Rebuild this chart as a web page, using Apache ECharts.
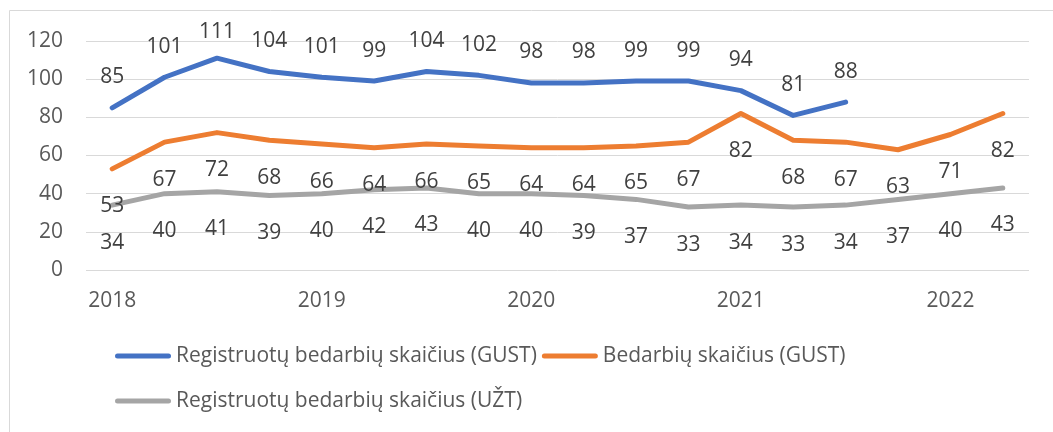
<!DOCTYPE html>
<html><head><meta charset="utf-8">
<script src="https://cdn.jsdelivr.net/npm/echarts@6/dist/echarts.min.js"></script>
<style>html,body{margin:0;padding:0;background:#fff}#c{width:1053px;height:432px}</style>
</head><body><div id="c"></div>
<script>
const categories = ["2018 I","2018 II","2018 III","2018 IV","2019 I","2019 II","2019 III","2019 IV","2020 I","2020 II","2020 III","2020 IV","2021 I","2021 II","2021 III","2021 IV","2022 I","2022 II"];
const regGust = [85,101,111,104,101,99,104,102,98,98,99,99,94,81,88,null,null,null];
const bedGust = [53,67,72,68,66,64,66,65,64,64,65,67,82,68,67,63,71,82];
const regUzt = [34,40,41,39,40,42,43,40,40,39,37,33,34,33,34,37,40,43];
const seriesNames = ["Registruotų bedarbių skaičius (GUST)","Bedarbių skaičius (GUST)","Registruotų bedarbių skaičius (UŽT)"];
const colors = ["#4472C4","#ED7D31","#A5A5A5"];
const FONT = "Open Sans";
const FS = 21;
const chart = echarts.init(document.getElementById('c'));
const lab = (pos, dist) => ({show:true, position:pos, distance:dist, color:'#404040', fontSize:FS, fontFamily:FONT, opacity:1});
const capsule = 'path://M2.5,0 H53.5 A2.5,2.5 0 0 1 53.5,5 H2.5 A2.5,2.5 0 0 1 2.5,0 Z';
const clampTop = p => {
  const r = p.labelRect;
  if (r && r.y + r.height / 2 < 32) {
    return {x: r.x + r.width / 2, y: 32, align: 'center', verticalAlign: 'middle', hideOverlap: false};
  }
  return {hideOverlap: false};
};
const mkSeries = (i, data, pos, dist) => ({
  name:seriesNames[i], type:'line', data:data, showSymbol:true, symbol:'circle', symbolSize:2,
  itemStyle:{color:colors[i]}, lineStyle:{width:5, cap:'round', join:'round', color:colors[i]},
  label:lab(pos, dist), labelLayout: clampTop
});
chart.setOption({
  animation:false,
  color: colors,
  textStyle:{fontFamily:FONT},
  graphic:[{type:'rect', shape:{x:9.5,y:10.5,width:1100,height:500}, style:{fill:'none',stroke:'#D9D9D9',lineWidth:1}, silent:true}],
  grid:{left:86,right:24,top:41,bottom:162,containLabel:false},
  legend:{
    left:110, top:331, width:800, itemGap:5, itemWidth:56, itemHeight:5,
    icon: capsule,
    textStyle:{color:'#595959', fontSize:FS, fontFamily:FONT, lineHeight:40},
    data: seriesNames
  },
  xAxis:{
    type:'category', data:categories, boundaryGap:true,
    axisLine:{show:false}, axisTick:{show:false},
    axisLabel:{interval:3, color:'#595959', fontSize:FS, fontFamily:FONT, margin:21, formatter:v=>v.split(' ')[0]}
  },
  yAxis:{
    type:'value', min:0, max:120, interval:20,
    axisLine:{show:false}, axisTick:{show:false},
    splitLine:{lineStyle:{color:'#D9D9D9', width:1}},
    axisLabel:{color:'#595959', fontSize:FS, fontFamily:FONT, margin:23}
  },
  series:[
    mkSeries(0, regGust, 'top', 19),
    mkSeries(1, bedGust, 'bottom', 26),
    mkSeries(2, regUzt, 'bottom', 26)
  ]
});
</script></body></html>
